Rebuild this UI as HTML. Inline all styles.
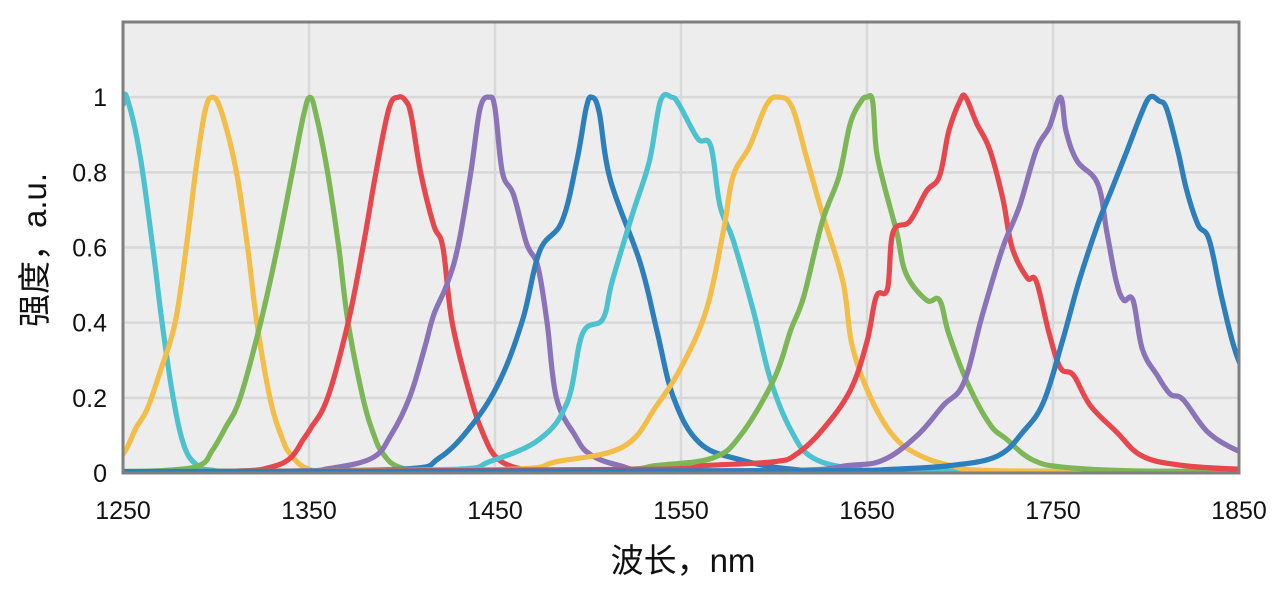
<!DOCTYPE html>
<html><head><meta charset="utf-8"><style>
html,body{margin:0;padding:0;background:#fff;}
svg{display:block;}
text{font-family:"Liberation Sans","Noto Sans CJK SC",sans-serif;fill:#111;}
</style></head><body>
<svg id="chart" width="1280" height="591" viewBox="0 0 1280 591">
<rect x="123" y="22" width="1116" height="451" fill="#ededed"/>
<g id="grid"></g>
<g id="ticks"></g>
<defs><clipPath id="clip"><rect x="123" y="22" width="1116" height="451"/></clipPath></defs>
<g id="series" clip-path="url(#clip)"></g>
<rect x="123" y="22" width="1116" height="451" fill="none" stroke="#7f7f7f" stroke-width="3"/>
<text x="683" y="572" font-size="33" text-anchor="middle">波长，nm</text>
<text transform="translate(46,250) rotate(-90)" font-size="33" text-anchor="middle">强度，a.u.</text>
</svg>
<script>
const xTicks=[1250,1350,1450,1550,1650,1750,1850];
const yTicks=[0,0.2,0.4,0.6,0.8,1];
const yTickLabels=["0","0.2","0.4","0.6","0.8","1"];
const seriesNames=["peak-1250","peak-1300","peak-1350","peak-1400","peak-1450","peak-1500","peak-1550","peak-1600","peak-1650","peak-1700","peak-1750","peak-1800"];
const seriesColors=["#4cc2cf","#f2bd48","#7db657","#e8464d","#8b73b7","#2c7fba","#4cc2cf","#f2bd48","#7db657","#e8464d","#8b73b7","#2c7fba"];
const wl1=[1240,1250,1252,1259,1266,1271,1277,1283,1290,1297,1320,1860];
const v1=[0.95,0.98,1.0,0.85,0.6,0.4,0.2,0.07,0.02,0.008,0.003,0.003];
const wl2=[1240,1250,1257,1263,1270,1278,1284,1289,1294,1298,1303,1311,1317,1322,1329,1335,1340,1350,1370,1860];
const v2=[0.02,0.05,0.12,0.17,0.27,0.4,0.6,0.8,0.96,1.0,0.96,0.8,0.6,0.4,0.2,0.1,0.05,0.01,0.004,0.004];
const wl3=[1240,1270,1291,1298,1305,1313,1324,1333,1341,1347,1350.5,1354,1360,1366,1371,1379,1385,1390,1399,1420,1860];
const v3=[0.004,0.006,0.02,0.06,0.12,0.2,0.4,0.6,0.8,0.95,1.0,0.95,0.8,0.6,0.4,0.2,0.1,0.05,0.015,0.005,0.004];
const wl4=[1240,1310,1329,1340,1347,1351,1360,1371,1379,1386,1393,1398,1402,1405,1410,1417,1422,1427,1437,1444,1451,1463,1480,1860];
const v4=[0.003,0.005,0.015,0.04,0.09,0.12,0.2,0.4,0.6,0.8,0.97,1.0,0.99,0.95,0.8,0.66,0.6,0.4,0.2,0.1,0.04,0.012,0.004,0.003];
const wl5=[1240,1340,1361,1384,1394,1404,1412,1417,1424,1430,1437,1442,1447,1450,1454,1460,1467,1473,1478,1483,1493,1501,1517,1540,1860];
const v5=[0.003,0.005,0.012,0.04,0.1,0.2,0.33,0.42,0.5,0.6,0.8,0.97,1.0,0.97,0.8,0.74,0.61,0.55,0.4,0.2,0.1,0.05,0.02,0.006,0.004];
const wl6=[1240,1400,1420,1438,1453,1465,1474,1486,1494,1499,1502,1506,1512,1528,1537,1546,1560,1582,1610,1650,1860];
const v6=[0.003,0.01,0.04,0.13,0.25,0.41,0.59,0.67,0.83,0.97,1.0,0.96,0.78,0.56,0.38,0.2,0.08,0.035,0.01,0.005,0.004];
const wl7=[1240,1430,1447,1474,1489,1497,1508,1513,1524,1533,1539,1545,1549,1559,1566,1571,1578,1589,1598,1609,1621,1645,1670,1860];
const v7=[0.003,0.01,0.03,0.09,0.19,0.37,0.41,0.51,0.69,0.83,0.99,1.0,0.98,0.89,0.87,0.71,0.62,0.43,0.25,0.115,0.04,0.01,0.005,0.004];
const wl8=[1240,1460,1483,1519,1537,1551,1564,1573,1578,1587,1596,1603,1610,1618,1626,1637,1642,1652,1664,1677,1695,1720,1860];
const v8=[0.003,0.01,0.03,0.07,0.18,0.29,0.44,0.65,0.79,0.87,0.98,1.0,0.97,0.83,0.69,0.51,0.34,0.2,0.1,0.05,0.02,0.006,0.004];
const wl9=[1240,1510,1537,1567,1582,1600,1609,1616,1626,1635,1641,1647,1650,1653,1655,1659,1666,1671,1682,1689,1694,1704,1716,1725,1739,1757,1800,1860];
const v9=[0.003,0.008,0.02,0.04,0.1,0.25,0.38,0.47,0.67,0.79,0.93,0.99,1.0,0.99,0.86,0.77,0.64,0.53,0.46,0.46,0.37,0.24,0.13,0.09,0.035,0.015,0.005,0.004];
const wl10=[1240,1540,1564,1600,1612,1626,1641,1650,1655,1661,1664,1673,1682,1689,1694,1700,1703,1709,1716,1723,1728,1736,1741,1748,1754,1761,1770,1784,1798,1820,1850,1860];
const v10=[0.003,0.01,0.02,0.03,0.05,0.115,0.22,0.35,0.47,0.49,0.64,0.67,0.75,0.79,0.91,0.99,1.0,0.93,0.86,0.73,0.6,0.52,0.51,0.37,0.28,0.26,0.18,0.11,0.045,0.02,0.01,0.01];
const wl11=[1240,1600,1640,1659,1677,1691,1702,1712,1723,1732,1741,1748,1754,1757,1763,1774,1779,1784,1788,1793,1798,1806,1813,1820,1833,1849,1860];
const v11=[0.003,0.006,0.02,0.035,0.1,0.18,0.24,0.42,0.6,0.71,0.86,0.92,1.0,0.91,0.83,0.77,0.64,0.51,0.46,0.46,0.33,0.26,0.21,0.195,0.11,0.06,0.045];
const wl12=[1240,1630,1664,1695,1720,1734,1745,1755,1764,1774,1782,1790,1797,1802,1807,1811,1817,1822,1828,1834,1841,1849,1860];
const v12=[0.004,0.006,0.01,0.02,0.045,0.11,0.19,0.35,0.51,0.66,0.76,0.86,0.95,1.0,0.99,0.97,0.86,0.75,0.66,0.62,0.46,0.31,0.2];
const allWl=[wl1,wl2,wl3,wl4,wl5,wl6,wl7,wl8,wl9,wl10,wl11,wl12];
const allV=[v1,v2,v3,v4,v5,v6,v7,v8,v9,v10,v11,v12];

const X0=123,X1=1239,Y0=473,Y1=22;
function xs(v){return X0+(v-1250)/(1850-1250)*(X1-X0);}
function ys(v){return Y0-(v/1.2)*(Y0-Y1);}
const NS="http://www.w3.org/2000/svg";
const grid=document.getElementById('grid'),ticks=document.getElementById('ticks'),ser=document.getElementById('series');
function mk(tag,attrs,parent){const e=document.createElementNS(NS,tag);for(const k in attrs)e.setAttribute(k,attrs[k]);parent.appendChild(e);return e;}
yTicks.forEach((t,i)=>{
  if(t>0){const l=mk('line',{x1:X0,x2:X1,y1:ys(t),y2:ys(t),stroke:'#d8d8d8','stroke-width':2.5},grid);
  
  }
  const tx=mk('text',{x:107,y:ys(t)+9,'font-size':25,'text-anchor':'end'},ticks);
  tx.textContent=yTickLabels[i];
  
  
});
xTicks.forEach(t=>{
  if(t>1250&&t<1850){const l=mk('line',{x1:xs(t),x2:xs(t),y1:Y1,y2:Y0,stroke:'#d8d8d8','stroke-width':2.5},grid);
  
  }
  const tx=mk('text',{x:xs(t),y:519,'font-size':25,'text-anchor':'middle'},ticks);
  tx.textContent=String(t);
  
  
});
function pathFor(wl,v){
  const p=wl.map((w,i)=>[xs(w),ys(v[i])]);
  let d='M'+p[0][0].toFixed(1)+','+p[0][1].toFixed(1);
  for(let i=0;i<p.length-1;i++){
    const a=p[Math.max(0,i-1)],b=p[i],c=p[i+1],e=p[Math.min(p.length-1,i+2)];
    const t=0.18;
    const c1=[b[0]+(c[0]-a[0])*t,b[1]+(c[1]-a[1])*t];
    const c2=[c[0]-(e[0]-b[0])*t,c[1]-(e[1]-b[1])*t];
    c1[0]=Math.min(Math.max(c1[0],b[0]),c[0]);c2[0]=Math.min(Math.max(c2[0],b[0]),c[0]);
    d+='C'+c1[0].toFixed(1)+','+c1[1].toFixed(1)+' '+c2[0].toFixed(1)+','+c2[1].toFixed(1)+' '+c[0].toFixed(1)+','+c[1].toFixed(1);
  }
  return d;
}
allWl.forEach((wl,i)=>{
  const p=mk('path',{d:pathFor(wl,allV[i]),fill:'none',stroke:seriesColors[i],'stroke-width':5.2,'stroke-linejoin':'round','stroke-linecap':'round'},ser);
  
  
});
</script>
</body></html>
